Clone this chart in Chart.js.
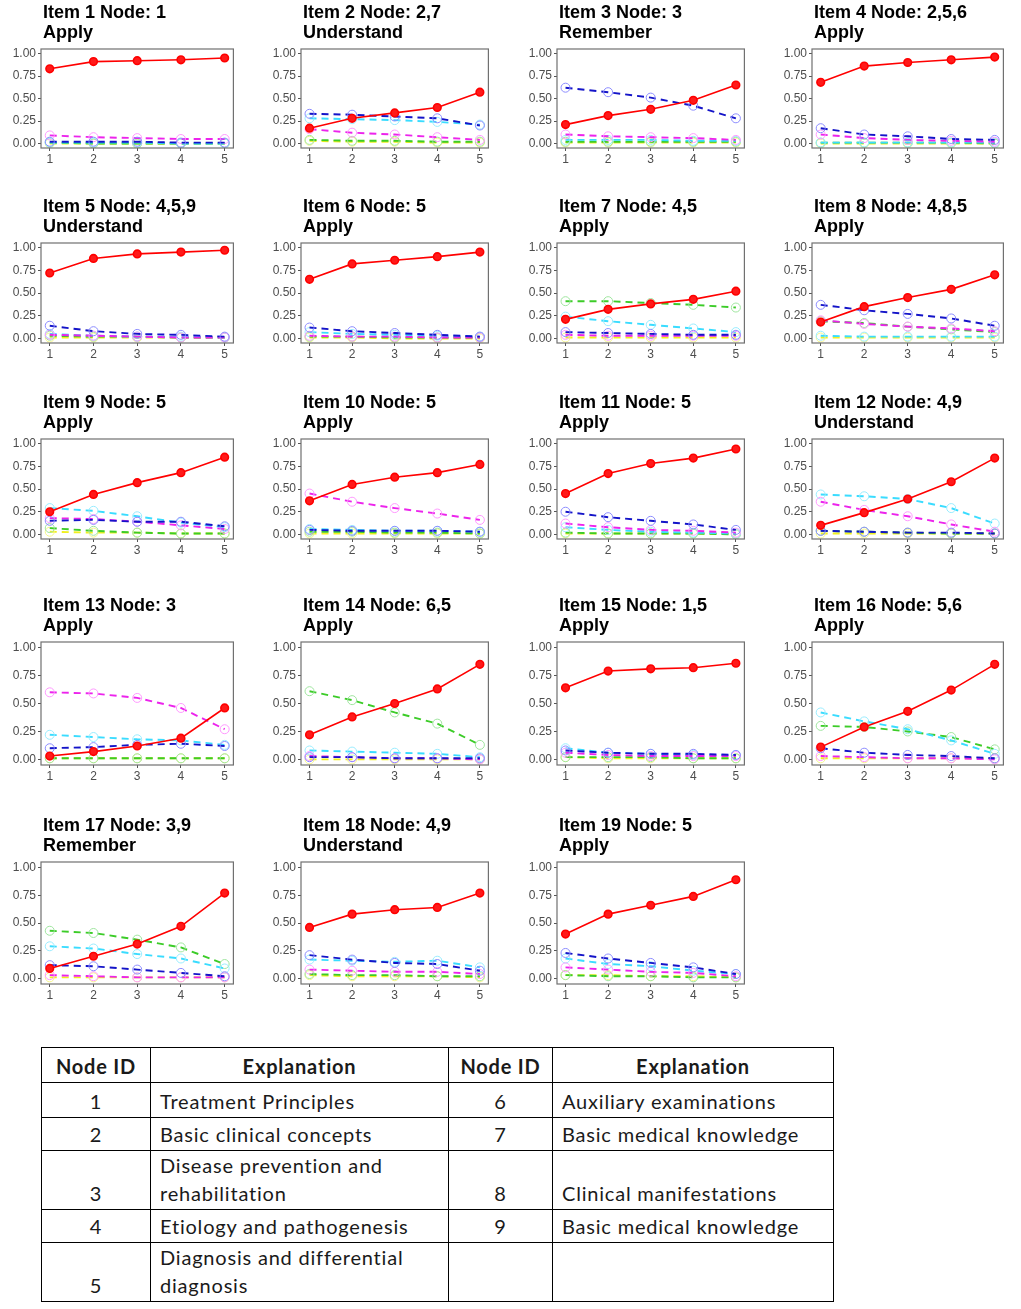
<!DOCTYPE html>
<html>
<head>
<meta charset="utf-8">
<script src="https://cdn.jsdelivr.net/npm/chart.js@4.4.1/dist/chart.umd.min.js"></script>
<style>
    html, body { margin: 0; padding: 0; background: #fff; }
    #page { position: relative; width: 1021px; height: 1309px; overflow: hidden; }
    .panel { position: absolute; }
    #nodes { position: absolute; left: 41px; top: 1047px; border-collapse: collapse; font-family: Lato, "Noto Sans", sans-serif; font-size: 20px; letter-spacing: 0.8px; color: #1a1a1a; }
    #nodes td, #nodes th { border: 1px solid #000; padding: 0 0 2px 0; line-height: 28px; vertical-align: bottom; }
    #nodes th { font-weight: bold; text-align: center; }
    #nodes td.id { text-align: center; }
    #nodes td.ex { text-align: left; padding-left: 9px; }
</style>
</head>
<body>
<div id="page"></div>
<script>
const items = ["Item 1", "Item 2", "Item 3", "Item 4", "Item 5", "Item 6", "Item 7", "Item 8", "Item 9", "Item 10",
    "Item 11", "Item 12", "Item 13", "Item 14", "Item 15", "Item 16", "Item 17", "Item 18", "Item 19"];
const nodes = ["1", "2,7", "3", "2,5,6", "4,5,9", "5", "4,5", "4,8,5", "5", "5",
    "5", "4,9", "3", "6,5", "1,5", "5,6", "3,9", "4,9", "5"];
const levels = ["Apply", "Understand", "Remember", "Apply", "Understand", "Apply", "Apply", "Apply", "Apply", "Apply",
    "Apply", "Understand", "Apply", "Apply", "Apply", "Apply", "Remember", "Understand", "Apply"];
const xVals = [1, 2, 3, 4, 5];
const yTicks = [0, 0.25, 0.5, 0.75, 1];

const redVals = [
    [0.83, 0.91, 0.92, 0.93, 0.95], [0.17, 0.28, 0.34, 0.40, 0.57], [0.21, 0.31, 0.38, 0.48, 0.65], [0.68, 0.86, 0.90, 0.93, 0.96],
    [0.72, 0.88, 0.93, 0.95, 0.97], [0.65, 0.82, 0.86, 0.90, 0.95], [0.21, 0.32, 0.38, 0.43, 0.52], [0.18, 0.35, 0.45, 0.54, 0.70],
    [0.25, 0.44, 0.57, 0.68, 0.85], [0.37, 0.55, 0.63, 0.68, 0.77], [0.45, 0.67, 0.78, 0.84, 0.94], [0.10, 0.24, 0.39, 0.58, 0.84],
    [0.03, 0.07, 0.12, 0.19, 0.46], [0.22, 0.38, 0.50, 0.63, 0.85], [0.64, 0.79, 0.81, 0.82, 0.86], [0.11, 0.29, 0.43, 0.62, 0.85],
    [0.09, 0.20, 0.31, 0.47, 0.77], [0.46, 0.58, 0.62, 0.64, 0.77], [0.40, 0.58, 0.66, 0.74, 0.89]];
const blueVals = [
    [0.02, 0.02, 0.02, 0.01, 0.01], [0.33, 0.32, 0.30, 0.28, 0.20], [0.62, 0.57, 0.51, 0.42, 0.28], [0.17, 0.10, 0.08, 0.05, 0.04],
    [0.14, 0.08, 0.05, 0.04, 0.02], [0.12, 0.08, 0.06, 0.04, 0.02], [0.07, 0.06, 0.05, 0.04, 0.04], [0.37, 0.31, 0.27, 0.22, 0.14],
    [0.15, 0.16, 0.14, 0.14, 0.09], [0.05, 0.04, 0.04, 0.04, 0.03], [0.25, 0.19, 0.15, 0.11, 0.05], [0.04, 0.03, 0.02, 0.02, 0.01],
    [0.10, 0.11, 0.13, 0.14, 0.12], [0.02, 0.02, 0.01, 0.01, 0.01], [0.08, 0.06, 0.05, 0.05, 0.04], [0.10, 0.06, 0.04, 0.03, 0.01],
    [0.12, 0.11, 0.08, 0.05, 0.02], [0.21, 0.17, 0.14, 0.13, 0.07], [0.23, 0.18, 0.14, 0.10, 0.04]];
const cyanVals = [
    [0.01, 0.01, 0.01, 0.00, 0.00], [0.28, 0.27, 0.26, 0.24, 0.21], [0.04, 0.04, 0.04, 0.03, 0.03], [0.01, 0.01, 0.01, 0.01, 0.01],
    [0.05, 0.03, 0.02, 0.02, 0.01], [0.07, 0.05, 0.04, 0.03, 0.02], [0.24, 0.19, 0.15, 0.11, 0.07], [0.03, 0.02, 0.02, 0.02, 0.02],
    [0.29, 0.26, 0.20, 0.13, 0.08], [0.06, 0.05, 0.04, 0.04, 0.03], [0.08, 0.05, 0.03, 0.02, 0.01], [0.44, 0.42, 0.39, 0.29, 0.12],
    [0.22, 0.20, 0.18, 0.17, 0.13], [0.08, 0.07, 0.06, 0.05, 0.02], [0.10, 0.06, 0.05, 0.04, 0.04], [0.42, 0.34, 0.27, 0.17, 0.05],
    [0.29, 0.27, 0.22, 0.18, 0.09], [0.17, 0.16, 0.15, 0.16, 0.10], [0.18, 0.13, 0.11, 0.07, 0.04]];
const magentaVals = [
    [0.09, 0.07, 0.06, 0.05, 0.05], [0.16, 0.12, 0.10, 0.07, 0.04], [0.10, 0.08, 0.07, 0.06, 0.04], [0.10, 0.06, 0.04, 0.03, 0.02],
    [0.04, 0.03, 0.02, 0.01, 0.01], [0.03, 0.02, 0.02, 0.01, 0.01], [0.04, 0.03, 0.03, 0.03, 0.03], [0.20, 0.16, 0.13, 0.11, 0.08],
    [0.18, 0.17, 0.14, 0.10, 0.06], [0.45, 0.36, 0.29, 0.23, 0.16], [0.12, 0.08, 0.05, 0.04, 0.02], [0.36, 0.27, 0.20, 0.11, 0.03],
    [0.60, 0.59, 0.55, 0.46, 0.27], [0.03, 0.02, 0.01, 0.01, 0.00], [0.06, 0.04, 0.03, 0.03, 0.03], [0.03, 0.02, 0.01, 0.01, 0.00],
    [0.03, 0.02, 0.01, 0.01, 0.01], [0.08, 0.07, 0.06, 0.06, 0.04], [0.10, 0.08, 0.06, 0.05, 0.02]];
const greenVals = [
    [0.01, 0.00, 0.00, 0.00, 0.00], [0.04, 0.03, 0.03, 0.02, 0.02], [0.02, 0.02, 0.02, 0.02, 0.02], [0.01, 0.01, 0.01, 0.01, 0.00],
    [0.03, 0.02, 0.02, 0.01, 0.01], [0.02, 0.02, 0.01, 0.01, 0.01], [0.41, 0.41, 0.39, 0.37, 0.34], [0.19, 0.17, 0.13, 0.10, 0.07],
    [0.07, 0.04, 0.02, 0.01, 0.01], [0.03, 0.03, 0.02, 0.02, 0.01], [0.02, 0.01, 0.01, 0.01, 0.00], [0.04, 0.03, 0.02, 0.01, 0.01],
    [0.01, 0.01, 0.01, 0.01, 0.01], [0.61, 0.53, 0.42, 0.32, 0.13], [0.02, 0.02, 0.02, 0.01, 0.01], [0.30, 0.29, 0.25, 0.20, 0.09],
    [0.43, 0.41, 0.35, 0.28, 0.13], [0.04, 0.03, 0.03, 0.02, 0.02], [0.03, 0.02, 0.02, 0.01, 0.01]];
const yellowVals = [
    [0.00, 0.00, 0.00, 0.00, 0.00], [0.03, 0.02, 0.02, 0.01, 0.01], [0.01, 0.01, 0.01, 0.01, 0.01], [0.00, 0.00, 0.00, 0.00, 0.00],
    [0.01, 0.01, 0.01, 0.01, 0.01], [0.01, 0.01, 0.00, 0.00, 0.00], [0.01, 0.01, 0.01, 0.01, 0.01], [0.01, 0.01, 0.01, 0.01, 0.01],
    [0.03, 0.02, 0.02, 0.01, 0.01], [0.01, 0.01, 0.01, 0.01, 0.01], [0.01, 0.01, 0.01, 0.01, 0.01], [0.01, 0.01, 0.01, 0.01, 0.01],
    [0.01, 0.01, 0.01, 0.01, 0.01], [0.00, 0.00, 0.00, 0.00, 0.00], [0.02, 0.01, 0.01, 0.01, 0.01], [0.01, 0.01, 0.01, 0.01, 0.01],
    [0.01, 0.01, 0.01, 0.01, 0.01], [0.03, 0.02, 0.02, 0.02, 0.01], [0.03, 0.03, 0.02, 0.02, 0.01]];

const leftIds = ["1", "2", "3", "4", "5"];
const leftText = ["Treatment Principles", "Basic clinical concepts", "Disease prevention and rehabilitation",
    "Etiology and pathogenesis", "Diagnosis and differential diagnosis"];
const rightIds = ["6", "7", "8", "9", ""];
const rightText = ["Auxiliary examinations", "Basic medical knowledge", "Clinical manifestations", "Basic medical knowledge", ""];

// panel grid
const colLeft = [41, 301, 557, 812];
const colWidth = [195, 190, 190, 194];
const rowTop = [49, 243, 439, 642, 862];
const rowHeight = [99, 100, 100, 123, 122];
const AXIS_W = 42, TITLE_H = 48, XAXIS_H = 22, PAD_R = 3;

// dashed series: [values, line colour, marker colour]
const dashed = [
    [blueVals, "#1414c8", "#8c8cff"],
    [magentaVals, "#ec24ec", "#ff99ff"],
    [cyanVals, "#3adcff", "#99ecff"],
    [greenVals, "#3ccc28", "#9fe59f"],
    [yellowVals, "#f0f020", "#f6f68a"],
];

const titleLeft = {
    id: "titleLeft",
    afterLayout(chart) {
        if (chart.titleBlock) chart.titleBlock.left = chart.chartArea.left + 2;
    },
};
const panelBorder = {
    id: "panelBorder",
    afterDraw(chart) {
        const { ctx, chartArea: a } = chart;
        ctx.save();
        ctx.strokeStyle = "#707070";
        ctx.lineWidth = 1.2;
        ctx.strokeRect(a.left, a.top, a.right - a.left, a.bottom - a.top);
        ctx.restore();
    },
};

const pts = (vals) => vals.map((v, i) => ({ x: xVals[i], y: v }));
const page = document.getElementById("page");

items.forEach((item, k) => {
    const c = k % 4, r = Math.floor(k / 4);
    const canvas = document.createElement("canvas");
    const w = colWidth[c] + AXIS_W + PAD_R;
    const h = rowHeight[r] + TITLE_H + XAXIS_H;
    canvas.className = "panel";
    canvas.style.left = colLeft[c] - AXIS_W + "px";
    canvas.style.top = rowTop[r] - TITLE_H + "px";
    canvas.style.width = w + "px";
    canvas.style.height = h + "px";
    canvas.width = w;
    canvas.height = h;
    page.appendChild(canvas);

    const datasets = [{
        data: pts(redVals[k]),
        borderColor: "#ff0000",
        backgroundColor: "#ff0000",
        borderWidth: 1.6,
        pointRadius: 3.8,
        pointBackgroundColor: "#ff1a1a",
        pointBorderColor: "#ff0000",
    }];
    dashed.forEach(([vals, line, mark]) => {
        datasets.push({
            data: pts(vals[k]),
            borderColor: line,
            borderWidth: 1.9,
            borderDash: [7, 5],
            pointRadius: 4.5,
            pointBorderWidth: 1,
            pointBorderColor: mark,
            pointBackgroundColor: "rgba(0,0,0,0)",
        });
    });

    new Chart(canvas.getContext("2d"), {
        type: "line",
        data: { datasets },
        options: {
            responsive: false,
            animation: false,
            events: [],
            layout: { padding: { left: 0, right: PAD_R, top: 0, bottom: 0 } },
            plugins: {
                legend: { display: false },
                tooltip: { enabled: false },
                title: {
                    display: true,
                    text: [`${item} Node: ${nodes[k]}`, levels[k]],
                    align: "start",
                    color: "#000",
                    font: { family: "'Liberation Sans', Arial, sans-serif", size: 18, weight: "bold", lineHeight: 1.1 },
                    padding: { top: 2, bottom: 6.4 },
                },
            },
            scales: {
                x: {
                    type: "linear",
                    min: 0.8,
                    max: 5.2,
                    afterBuildTicks: (axis) => { axis.ticks = xVals.map((v) => ({ value: v })); },
                    afterFit: (axis) => { axis.height = XAXIS_H; },
                    ticks: { color: "#4d4d4d", font: { family: "'Liberation Sans', Arial", size: 12 }, padding: 1, maxRotation: 0, callback: (v) => String(v) },
                    grid: { drawOnChartArea: false, drawTicks: true, tickLength: 3, color: "#555" },
                    border: { display: false },
                },
                y: {
                    min: -0.05,
                    max: 1.05,
                    afterBuildTicks: (axis) => { axis.ticks = yTicks.map((v) => ({ value: v })); },
                    afterFit: (axis) => { axis.width = AXIS_W; },
                    ticks: { color: "#4d4d4d", font: { family: "'Liberation Sans', Arial", size: 12 }, padding: 2, callback: (v) => v.toFixed(2) },
                    grid: { drawOnChartArea: false, drawTicks: true, tickLength: 3, color: "#555" },
                    border: { display: false },
                },
            },
        },
        plugins: [titleLeft, panelBorder],
    });
});

// node table
const table = document.createElement("table");
table.id = "nodes";
table.innerHTML = `<colgroup><col style="width:109px"><col style="width:298px"><col style="width:104px"><col style="width:281px"></colgroup>`;
const rowHeights = [35, 35, 33, 58, 33, 59];
let html = `<tr style="height:${rowHeights[0]}px"><th>Node ID</th><th>Explanation</th><th>Node ID</th><th>Explanation</th></tr>`;
leftIds.forEach((id, i) => {
    html += `<tr style="height:${rowHeights[i + 1]}px"><td class="id">${id}</td><td class="ex">${leftText[i]}</td>` +
        `<td class="id">${rightIds[i]}</td><td class="ex">${rightText[i]}</td></tr>`;
});
table.innerHTML += html;
page.appendChild(table);
</script>
</body>
</html>
